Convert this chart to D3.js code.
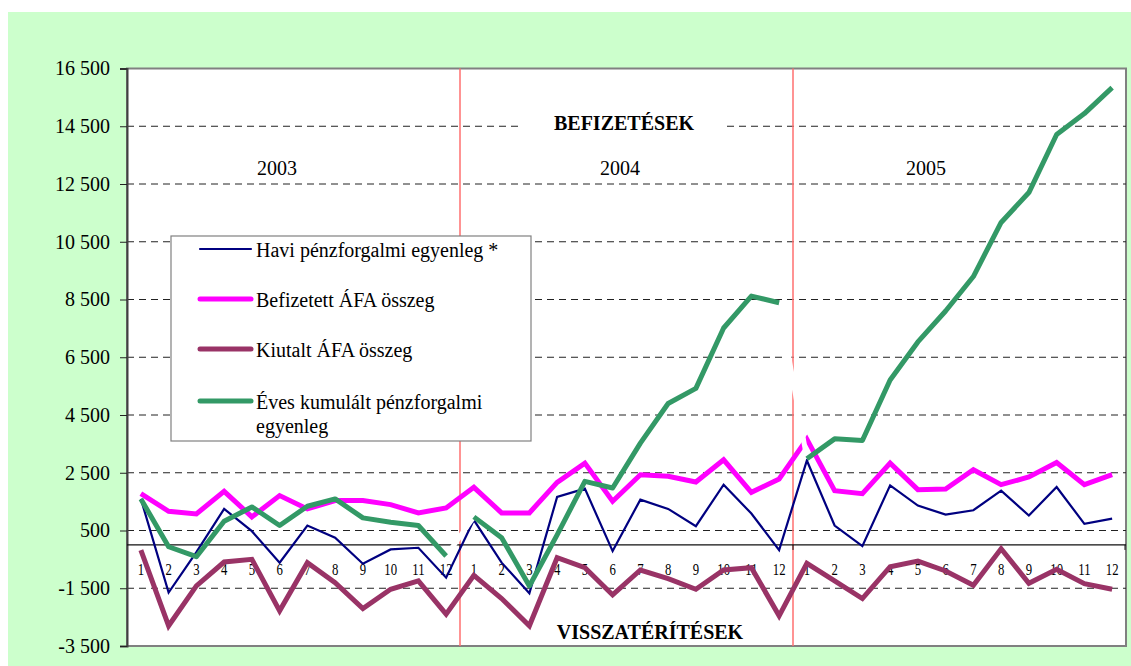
<!DOCTYPE html>
<html>
<head>
<meta charset="utf-8">
<script src="https://cdn.jsdelivr.net/npm/d3@7"></script>
<style>
  body { margin: 0; background: #fff; }
  text { font-family: "Liberation Serif", "Times New Roman", serif; fill: #000; }
</style>
</head>
<body>
<div id="chart"></div>
<script>
// ÁFA chart, 2003-2005, monthly values (millió Ft)

var years = ["2003", "2004", "2005"];
var months = ["1", "2", "3", "4", "5", "6", "7", "8", "9", "10", "11", "12"];
var yTicks = [16500, 14500, 12500, 10500, 8500, 6500, 4500, 2500, 500, -1500, -3500];

// Havi pénzforgalmi egyenleg *
var havi = [
  1594, -1650, -250, 1248, 477, -615, 672, 247, -650, -155, -98, -1133,
  860, -615, -1673, 1662, 1949, -213, 1570, 1248, 650, 2087, 1087, -178,
  2926, 672, -40, 2064, 1363, 1052, 1202, 1880, 1018, 2007, 730, 914
];
// Befizetett ÁFA összeg
var befizetett = [
  1777, 1167, 1075, 1857, 972, 1708, 1248, 1535, 1535, 1397, 1110, 1282,
  1995, 1110, 1110, 2168, 2835, 1512, 2432, 2375, 2180, 2950, 1823, 2283,
  3663, 1880, 1777, 2835, 1915, 1938, 2605, 2087, 2352, 2857, 2087, 2432
];
// Kiutalt ÁFA összeg
var kiutalt = [
  -178, -2800, -1420, -592, -500, -2283, -615, -1305, -2202, -1535, -1248, -2398,
  -1052, -1857, -2800, -443, -788, -1731, -868, -1167, -1535, -868, -788, -2456,
  -638, -1248, -1857, -753, -558, -903, -1397, -133, -1328, -845, -1340, -1535
];
// Éves kumulált pénzforgalmi egyenleg
var kumulalt = [
  1594, -63, -408, 822, 1317, 672, 1340, 1594, 937, 788, 672, -385,
  972, 247, -1420, 350, 2202, 1972, 3525, 4899, 5423, 7513, 8618, 8389,
  2984, 3674, 3616, 5710, 7031, 8101, 9295, 11169, 12204, 14214, 14938, 15836
];

var seriesNames = ["Havi pénzforgalmi egyenleg *", "Befizetett ÁFA összeg",
                   "Kiutalt ÁFA összeg", "Éves kumulált pénzforgalmi egyenleg"];

var width = 1131, height = 666;
var plotL = 127, plotR = 1126, plotT = 68.5, plotB = 646;

var svg = d3.select("#chart").append("svg")
    .attr("width", width)
    .attr("height", height);

// green chart area
svg.append("rect")
    .attr("x", 8).attr("y", 12)
    .attr("width", width - 8).attr("height", height - 12)
    .attr("fill", "#ccffcc");

// plot area
svg.append("rect")
    .attr("x", plotL).attr("y", plotT)
    .attr("width", plotR - plotL).attr("height", plotB - plotT)
    .attr("fill", "#fff")
    .attr("stroke", "#808080")
    .attr("stroke-width", 2);

var idx = d3.range(36);
var x = d3.scaleBand().domain(idx).range([plotL, plotR]).padding(0);
var cx = function(i) { return x(i) + x.bandwidth() / 2; };

var y = d3.scaleLinear().domain([-3500, 16500]).range([plotB, plotT]);

var fmt = function(v) { return d3.format(",")(v).replace(/,/g, " ").replace("−", "-"); };

// dashed grid lines
svg.append("g").selectAll("line")
    .data(yTicks.filter(function(d) { return d != 16500 && d != -3500; }))
    .enter().append("line")
      .attr("x1", plotL).attr("x2", plotR)
      .attr("y1", function(d) { return y(d); })
      .attr("y2", function(d) { return y(d); })
      .attr("stroke", "#222")
      .attr("stroke-width", 1)
      .attr("stroke-dasharray", "7,5");

// white box behind the BEFIZETÉSEK label
svg.append("rect")
    .attr("x", 520).attr("y", 116)
    .attr("width", 207).attr("height", 20)
    .attr("fill", "#fff");

// year separators
svg.append("g").selectAll("line")
    .data([12, 24])
    .enter().append("line")
      .attr("x1", function(d) { return x(d); })
      .attr("x2", function(d) { return x(d); })
      .attr("y1", plotT).attr("y2", plotB)
      .attr("stroke", "#ff6f6f")
      .attr("stroke-width", 1.5);

// y axis
var yAxis = d3.axisLeft(y)
    .tickValues(yTicks)
    .tickSize(7)
    .tickPadding(10)
    .tickFormat(fmt);
var gy = svg.append("g")
    .attr("transform", "translate(" + plotL + ",0)")
    .call(yAxis);
gy.select(".domain").attr("stroke", "#404040").attr("stroke-width", 2);
gy.selectAll(".tick line").attr("stroke", "#222");
gy.selectAll(".tick text")
    .style("font-family", "'Liberation Serif', serif")
    .style("font-size", "20px")
    .attr("fill", "#000");

// zero line with ticks at year boundaries
svg.append("line")
    .attr("x1", plotL).attr("x2", plotR)
    .attr("y1", y(0)).attr("y2", y(0))
    .attr("stroke", "#111").attr("stroke-width", 1.2);
svg.append("g").selectAll("line")
    .data([12, 24, 36])
    .enter().append("line")
      .attr("x1", function(d) { return d == 36 ? plotR - 1 : x(d); })
      .attr("x2", function(d) { return d == 36 ? plotR - 1 : x(d); })
      .attr("y1", y(0)).attr("y2", y(0) + 5)
      .attr("stroke", "#111");

// month labels (narrow)
svg.append("g").selectAll("text")
    .data(idx)
    .enter().append("text")
      .attr("transform", function(i) { return "translate(" + cx(i) + ",575) scale(0.75,1)"; })
      .attr("text-anchor", "middle")
      .style("font-size", "17px")
      .text(function(i) { return months[i % 12]; });

// year labels
svg.append("g").selectAll("text")
    .data(years)
    .enter().append("text")
      .attr("x", function(d, i) { return [277, 620, 926][i]; })
      .attr("y", 175)
      .attr("text-anchor", "middle")
      .style("font-size", "20px")
      .text(function(d) { return d; });

svg.append("text")
    .attr("x", 624).attr("y", 130)
    .attr("text-anchor", "middle")
    .style("font-size", "20px").style("font-weight", "bold")
    .text("BEFIZETÉSEK");

svg.append("text")
    .attr("x", 650).attr("y", 639)
    .attr("text-anchor", "middle")
    .style("font-size", "20px").style("font-weight", "bold")
    .text("VISSZATÉRÍTÉSEK");

// lines
var line = d3.line()
    .x(function(d) { return cx(d.i); })
    .y(function(d) { return y(d.v); });

function pts(arr) { return arr.map(function(v, i) { return {i: i, v: v}; }); }

svg.append("path").datum(pts(havi))
    .attr("d", line).attr("fill", "none")
    .attr("stroke", "#000080").attr("stroke-width", 2.2);

svg.append("path").datum(pts(befizetett))
    .attr("d", line).attr("fill", "none")
    .attr("stroke", "#ff00ff").attr("stroke-width", 5);

svg.append("path").datum(pts(kiutalt))
    .attr("d", line).attr("fill", "none")
    .attr("stroke", "#993366").attr("stroke-width", 5);

// cumulative: green per year, white connectors between years
var cum = pts(kumulalt);
[[11, 12], [23, 24]].forEach(function(p) {
  svg.append("path").datum([cum[p[0]], cum[p[1]]])
      .attr("d", line).attr("fill", "none")
      .attr("stroke", "#fff").attr("stroke-width", 5);
});
years.forEach(function(yr, k) {
  svg.append("path").datum(cum.slice(k * 12, k * 12 + 12))
      .attr("d", line).attr("fill", "none")
      .attr("stroke", "#339966").attr("stroke-width", 5)
      .attr("stroke-linejoin", "round");
});

// legend
var legend = svg.append("g");
legend.append("rect")
    .attr("x", 171).attr("y", 236)
    .attr("width", 360).attr("height", 205)
    .attr("fill", "#fff")
    .attr("stroke", "#808080").attr("stroke-width", 1.2);

var legColors = ["#000080", "#ff00ff", "#993366", "#339966"];
var legWidths = [2.2, 5, 5, 5];
var legY = [249, 299, 349, 401];

seriesNames.forEach(function(name, i) {
  legend.append("line")
      .attr("x1", 200).attr("x2", 251)
      .attr("y1", legY[i]).attr("y2", legY[i])
      .attr("stroke", legColors[i])
      .attr("stroke-width", legWidths[i])
      .attr("stroke-linecap", "round");
  var t = legend.append("text")
      .attr("x", 256).attr("y", legY[i] + 8)
      .style("font-size", "20px");
  if (i == 3) {
    t.append("tspan").attr("x", 256).text("Éves kumulált pénzforgalmi");
    t.append("tspan").attr("x", 256).attr("dy", 24).text("egyenleg");
  } else {
    t.text(name);
  }
});
</script>
</body>
</html>
